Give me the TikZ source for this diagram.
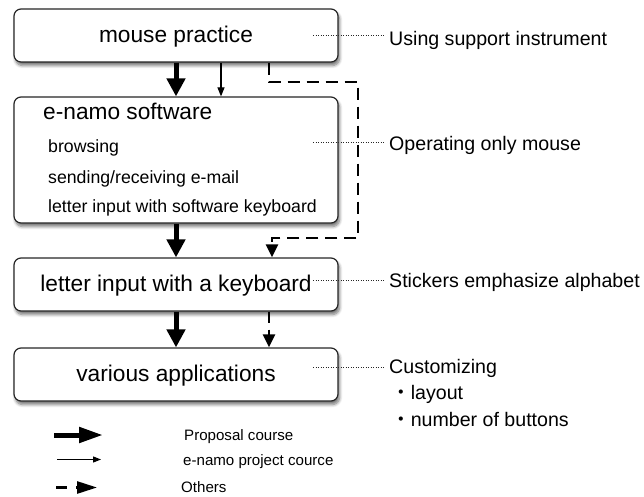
\documentclass[tikz,border=0pt]{standalone}
\usepackage{fontspec}
\setmainfont{Liberation Sans}
\newfontfamily\cjk{Noto Sans CJK JP}
\usetikzlibrary{arrows.meta,shadows.blur,calc}
\begin{document}
\begin{tikzpicture}[x=1pt,y=-1pt,
  box/.style={draw=black!85, line width=1.2pt, rounded corners=7pt, fill=white,
    minimum width=324pt, inner sep=0pt, text height=18pt, text depth=4pt,
    blur shadow={shadow xshift=1.5pt, shadow yshift=-3.5pt, shadow blur steps=6, shadow opacity=55, shadow blur radius=3pt},
    font=\fontsize{22.7}{27}\selectfont},
  sub/.style={anchor=base west, inner sep=0pt, font=\fontsize{17.7}{21}\selectfont},
  lab/.style={anchor=base west, inner sep=0pt, font=\fontsize{19.6}{24}\selectfont},
  leg/.style={anchor=base west, inner sep=0pt, font=\fontsize{15.1}{18}\selectfont},
  thickarr/.style={line width=5pt, -{Triangle[length=18pt,width=18pt]}},
  thinarr/.style={line width=1.1pt, -{Triangle[length=9pt,width=7pt]}},
  dasharr/.style={line width=2.6pt, dash pattern=on 12pt off 7pt, -{Triangle[length=13pt,width=12pt]}},
  leader/.style={line width=0.8pt, dash pattern=on 1pt off 1.5pt, black!85}]
\useasboundingbox (0,0) rectangle (644,497);

% boxes
\node[box, minimum height=53pt] (b1) at (176,35.5) {mouse practice};
\node[box, minimum height=126pt] (b2) at (176,160) {};
\node[box, minimum height=53pt] (b3) at (176,284.5) {letter input with a keyboard};
\node[box, minimum height=53pt] (b4) at (176,374.5) {various applications};

% box 2 contents
\node[anchor=base west, inner sep=0pt, font=\fontsize{22.7}{27}\selectfont] (t0) at (43,120) {e-namo software};
\node[sub] (t1) at (48,153) {browsing};
\node[sub] (t2) at (48,183) {sending/receiving e-mail};
\node[sub] (t3) at (48,212) {letter input with software keyboard};

% arrows between boxes
\draw[thickarr] (b1.south) -- (b2.north);
\draw[thinarr] ([xshift=45pt]b1.south) -- ([xshift=45pt]b2.north);
\coordinate (d1) at (358,82);
\coordinate (d2) at (358,238);
\draw[dasharr] ([xshift=93pt]b1.south) |- (d1) -- (d2) -| ([xshift=96pt]b3.north);
\draw[thickarr] (b2.south) -- (b3.north);
\draw[thickarr] (b3.south) -- (b4.north);
\draw[dasharr, dash pattern=on 11pt off 7pt] ([xshift=93pt]b3.south) -- ([xshift=93pt]b4.north);

% right labels
\node[lab] (l1) at (389,46) {Using support instrument};
\node[lab] (l2) at (389,150) {Operating only mouse};
\node[lab] (l3) at (389,287) {Stickers emphasize alphabet};
\node[lab] (l4) at (389,373) {Customizing};
\node[lab] (l5) at (391,399) {{\cjk ・}layout};
\node[lab] (l6) at (391,426) {{\cjk ・}number of buttons};

\coordinate (s1) at (313,35.5);
\coordinate (s2) at (313,142.5);
\coordinate (s3) at (313,280.5);
\coordinate (s4) at (313,367.5);
\draw[leader] (s1) -- ($(s1 -| l1.west)+(-5,0)$);
\draw[leader] (s2) -- ($(s2 -| l2.west)+(-5,0)$);
\draw[leader] (s3) -- ($(s3 -| l3.west)+(-5,0)$);
\draw[leader] (s4) -- ($(s4 -| l4.west)+(-5,0)$);

% legend
\coordinate (ga) at (54,435);
\coordinate (gb) at (103,435);
\draw[line width=5pt, -{Triangle[length=24pt,width=15pt]}] (ga) -- (gb);
\node[leg] (g1) at (184,440) {Proposal course};
\coordinate (ha) at (57,459.5);
\coordinate (hb) at (101,459.5);
\draw[thinarr, -{Triangle[length=8pt,width=6pt]}] (ha) -- (hb);
\node[leg] (g2) at (183,465) {e-namo project cource};
\coordinate (ka) at (56,487.5);
\coordinate (kb) at (97,487.5);
\draw[line width=2.6pt, dash pattern=on 11pt off 9pt, -{Triangle[length=20pt,width=12pt]}] (ka) -- (kb);
\node[leg] (g3) at (181,492) {Others};
\end{tikzpicture}
\end{document}
